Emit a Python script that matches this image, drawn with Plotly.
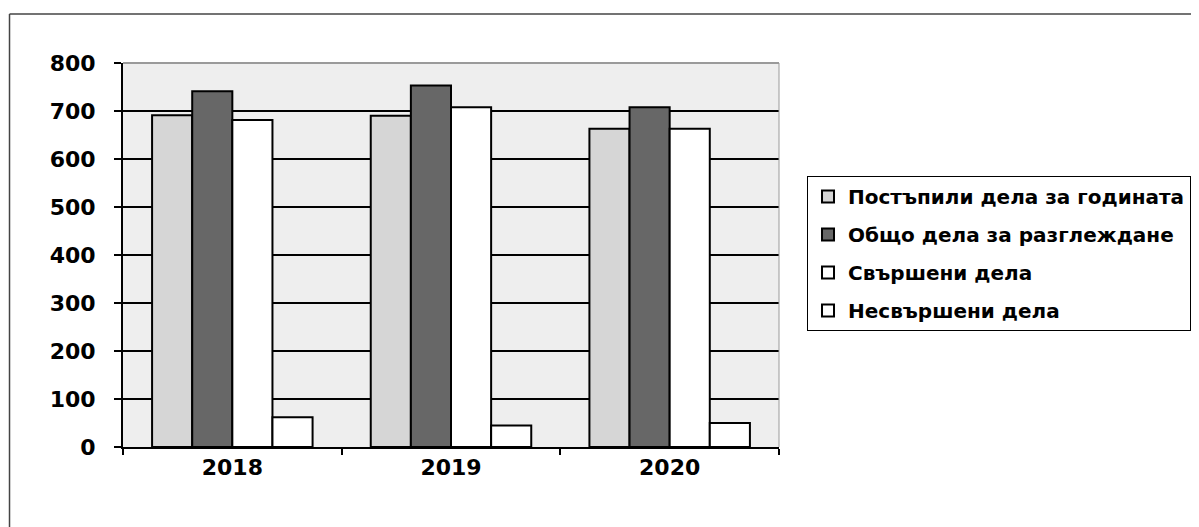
import plotly.graph_objects as go

years = ["2018", "2019", "2020"]
series_names = [
    "Постъпили дела за годината",
    "Общо дела за разглеждане",
    "Свършени дела",
    "Несвършени дела",
]
incoming = [691, 690, 663]
total = [741, 753, 708]
finished = [681, 708, 663]
pending = [62, 45, 50]
series_values = [incoming, total, finished, pending]
series_colors = ["#d6d6d6", "#676767", "#ffffff", "#ffffff"]
y_ticks = [0, 100, 200, 300, 400, 500, 600, 700, 800]

FONT = "DejaVu Sans"

fig = go.Figure()
for i, (name, vals, col) in enumerate(zip(series_names, series_values, series_colors)):
    fig.add_trace(go.Bar(
        x=years, y=vals, name=name, legendgroup=f"g{i}",
        marker=dict(color=col, line=dict(color="#000000", width=2)),
    ))

fig.update_layout(
    width=1199, height=527,
    margin=dict(l=115, r=428, t=55, b=88),
    paper_bgcolor="#ffffff",
    plot_bgcolor="#eeeeee",
    barmode="group", bargap=0.266, bargroupgap=0,
    font=dict(family=FONT, color="#000000"),
    showlegend=True,
    legend=dict(
        x=1.0427, y=0.7057, xanchor="left", yanchor="top",
        bgcolor="#ffffff", bordercolor="#000000", borderwidth=1,
        font=dict(family=FONT, size=20, color="#000000", weight="bold"),
        tracegroupgap=9, traceorder="grouped", itemwidth=30,
    ),
    xaxis=dict(
        type="category", showline=True, linecolor="#000000", linewidth=2,
        ticks="outside", tickson="boundaries", ticklen=6, tickcolor="#000000", tickwidth=1.5,
        tickfont=dict(family=FONT, size=22, color="#000000", weight="bold"),
        showgrid=False, zeroline=False,
    ),
    yaxis=dict(
        range=[0, 800], tickvals=y_ticks, showline=True, linecolor="#000000", linewidth=2,
        ticks="outside", ticklen=7, tickcolor="#000000", tickwidth=1.5,
        ticklabelstandoff=14,
        tickfont=dict(family=FONT, size=22, color="#000000", weight="bold"),
        showgrid=True, gridcolor="#000000", gridwidth=1.5, zeroline=False,
    ),
    shapes=[
        dict(type="line", xref="x domain", yref="y domain", x0=0, x1=1, y0=1, y1=1,
             line=dict(color="#9a9a9a", width=2), layer="above"),
        dict(type="line", xref="x domain", yref="y domain", x0=1, x1=1, y0=0, y1=1,
             line=dict(color="#9a9a9a", width=1), layer="above"),
        dict(type="line", xref="paper", yref="paper", x0=-0.173, x1=1.66, y0=1.1276, y1=1.1276,
             line=dict(color="#444444", width=1.5)),
        dict(type="line", xref="paper", yref="paper", x0=-0.173, x1=-0.173, y0=-0.25, y1=1.1276,
             line=dict(color="#444444", width=1.5)),
    ],
)

fig.write_html("out.html")
